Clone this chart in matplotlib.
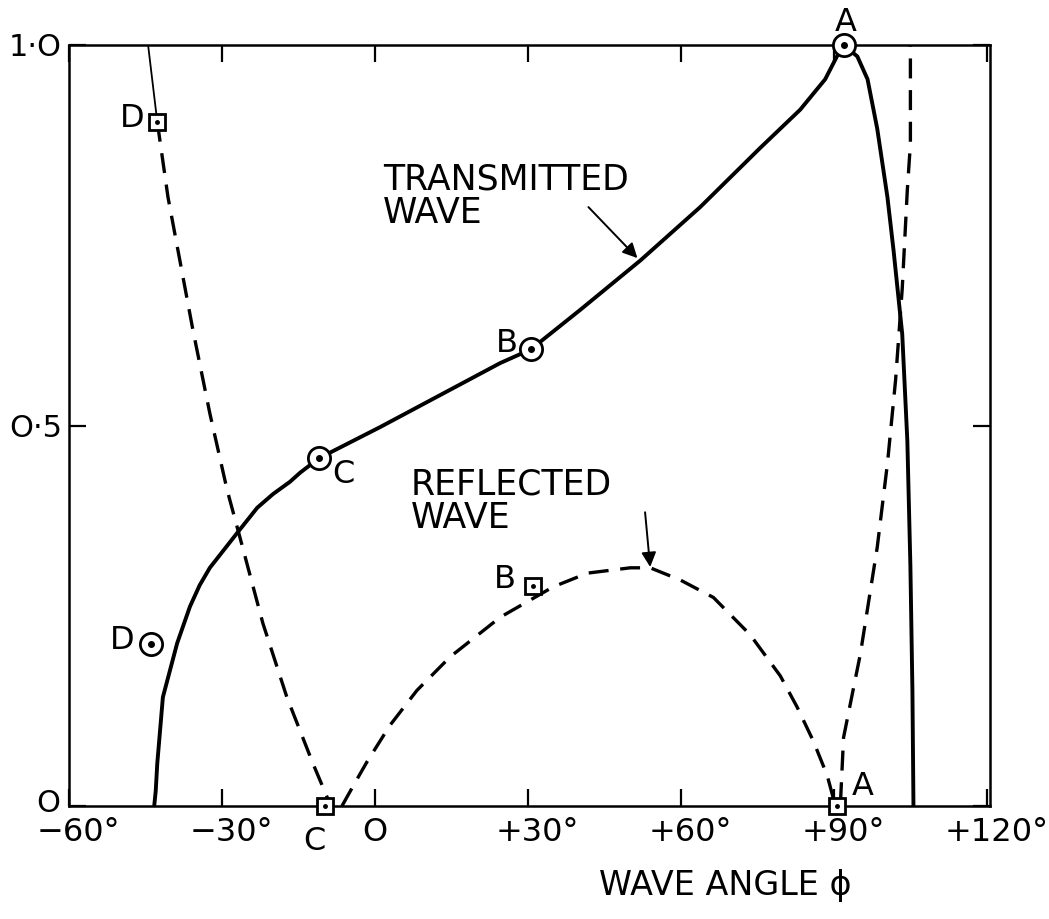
import matplotlib
matplotlib.use("Agg")
import matplotlib.pyplot as plt
import matplotlib.transforms as mtransforms

plt.rcParams['font.family'] = ['DejaVu Sans']

# transmitted wave (solid curve)
trans_phi = [-43.3, -43.0, -42.7, -41.6, -38.8, -36.3, -34.4, -32.4, -26.9, -23.1, -20.0,
             -16.7, -14.7, -11.0, 1.0, 24.5, 30.5, 40.2, 52.0, 63.7, 75.5, 83.3, 88.2,
             90.5, 91.8, 94.5, 96.5, 98.4, 100.4, 101.6, 103.3, 104.3, 104.9, 105.3, 105.5]
trans_amp = [0.0, 0.02, 0.056, 0.143, 0.214, 0.262, 0.29, 0.313, 0.36, 0.392, 0.41,
             0.426, 0.438, 0.457, 0.498, 0.582, 0.600, 0.652, 0.717, 0.787, 0.865, 0.915,
             0.955, 0.985, 1.0, 0.985, 0.955, 0.89, 0.80, 0.73, 0.62, 0.48, 0.315, 0.15, 0.0]

# reflected wave (dashed), three branches; thin solid piece at the top
refl_top_phi = [-44.5, -42.7]
refl_top_amp = [1.0, 0.899]
refl_left_phi = [-42.7, -40.6, -35.7, -32.4, -29.0, -26.5, -22.0, -17.3, -12.2, -9.0]
refl_left_amp = [0.899, 0.80, 0.625, 0.516, 0.415, 0.353, 0.24, 0.143, 0.056, 0.005]
refl_mid_phi = [-6.5, -4.0, -1.6, 2.9, 8.2, 14.7, 24.5, 34.9, 41.6, 50.0, 53.9, 59.8, 66.3,
                73.5, 79.4, 82.7, 85.9, 88.6, 90.0]
refl_mid_amp = [0.0, 0.03, 0.058, 0.106, 0.152, 0.196, 0.248, 0.288, 0.306, 0.313, 0.313,
                0.297, 0.274, 0.225, 0.171, 0.13, 0.085, 0.04, 0.005]
refl_right_phi = [91.2, 91.8, 95.1, 98.4, 100.4, 102.0, 103.3, 104.3, 104.9, 104.9]
refl_right_amp = [0.005, 0.09, 0.20, 0.34, 0.45, 0.56, 0.68, 0.81, 0.87, 1.0]

# labelled points
trans_pt_phi = [91.8, 30.5, -11.0, -43.9]
trans_pt_amp = [1.0, 0.600, 0.457, 0.213]
refl_pt_phi = [90.6, 31.0, -9.8, -42.7]
refl_pt_amp = [0.0, 0.289, 0.0, 0.899]

xtick_vals = [-60, -30, 0, 30, 60, 90, 120]
xtick_text = ['\u221260\u00b0', '\u221230\u00b0', 'O', '+30\u00b0', '+60\u00b0', '+90\u00b0', '+120\u00b0']
ytick_vals = [0, 0.5, 1.0]
ytick_text = ['O', 'O\u00b75', '1\u00b7O']

fig = plt.figure(figsize=(10.49, 9.19), dpi=100)
ax = fig.add_axes([69 / 1049, 113 / 919, 921 / 1049, 761 / 919])
ax.set_xlim(-60, 120.5)
ax.set_ylim(0, 1.0)

ax.plot(trans_phi, trans_amp, color='k', lw=2.8, solid_capstyle='butt',
        solid_joinstyle='round', zorder=3)
ax.plot(refl_top_phi, refl_top_amp, color='k', lw=1.3, zorder=3)
for px, py in [(refl_left_phi, refl_left_amp), (refl_mid_phi, refl_mid_amp),
               (refl_right_phi, refl_right_amp)]:
    ax.plot(px, py, color='k', lw=2.4, linestyle=(0, (6, 3.5)), zorder=3)

# circle-with-dot and square-with-dot markers
ax.plot(trans_pt_phi, trans_pt_amp, 'o', ms=16, mfc='white', mec='k', mew=2,
        clip_on=False, zorder=5)
ax.plot(trans_pt_phi, trans_pt_amp, 'o', ms=4, color='k', clip_on=False, zorder=6)
ax.plot(refl_pt_phi, refl_pt_amp, 's', ms=11, mfc='white', mec='k', mew=2,
        clip_on=False, zorder=5)
ax.plot(refl_pt_phi, refl_pt_amp, 'o', ms=2.5, color='k', clip_on=False, zorder=6)

lab = dict(fontsize=23, ha='center', va='center', clip_on=False)
ax.text(92.2, 1.03, 'A', **lab)
ax.text(25.9, 0.608, 'B', **lab)
ax.text(-6.3, 0.436, 'C', **lab)
ax.text(-49.6, 0.217, 'D', **lab)
ax.text(-47.6, 0.904, 'D', **lab)
ax.text(25.5, 0.297, 'B', **lab)
ax.text(-12.0, -0.047, 'C', **lab)
ax.text(95.5, 0.025, 'A', **lab)

ax.text(1.6, 0.846, 'TRANSMITTED\nWAVE', fontsize=25, ha='left', va='top', linespacing=1.0)
ax.text(6.9, 0.445, 'REFLECTED\nWAVE', fontsize=25, ha='left', va='top', linespacing=1.0)

arrow = dict(arrowstyle='-|>', lw=1.4, color='k', mutation_scale=22, shrinkA=0, shrinkB=0)
ax.annotate('', xy=(51.4, 0.72), xytext=(41.8, 0.787), arrowprops=arrow)
ax.annotate('', xy=(53.9, 0.314), xytext=(52.9, 0.386), arrowprops=arrow)

ax.text(68.6, -0.104, 'WAVE ANGLE \u03d5', fontsize=24, ha='center', va='center',
        clip_on=False)

ax.set_xticks(xtick_vals)
ax.set_xticklabels(xtick_text, fontsize=23)
ax.set_yticks(ytick_vals)
ax.set_yticklabels(ytick_text, fontsize=22)
ax.tick_params(direction='in', length=12, width=1.6, top=True, right=True)
ax.tick_params(axis='x', pad=8)
ax.tick_params(axis='y', pad=5)
# the degree sign pushes the printed labels a little to the right of their ticks
for t, txt in zip(ax.get_xticklabels(), xtick_text):
    if txt.endswith('\u00b0'):
        shift = mtransforms.ScaledTranslation(9 / 100, 0, fig.dpi_scale_trans)
        t.set_transform(t.get_transform() + shift)
# lift the bottom "O" clear of the -60 label
ylab0 = ax.get_yticklabels()[0]
ylab0.set_transform(ylab0.get_transform() +
                    mtransforms.ScaledTranslation(-2 / 100, 6 / 100, fig.dpi_scale_trans))
for s in ax.spines.values():
    s.set_linewidth(1.8)

fig.savefig('out.png', dpi=100)
